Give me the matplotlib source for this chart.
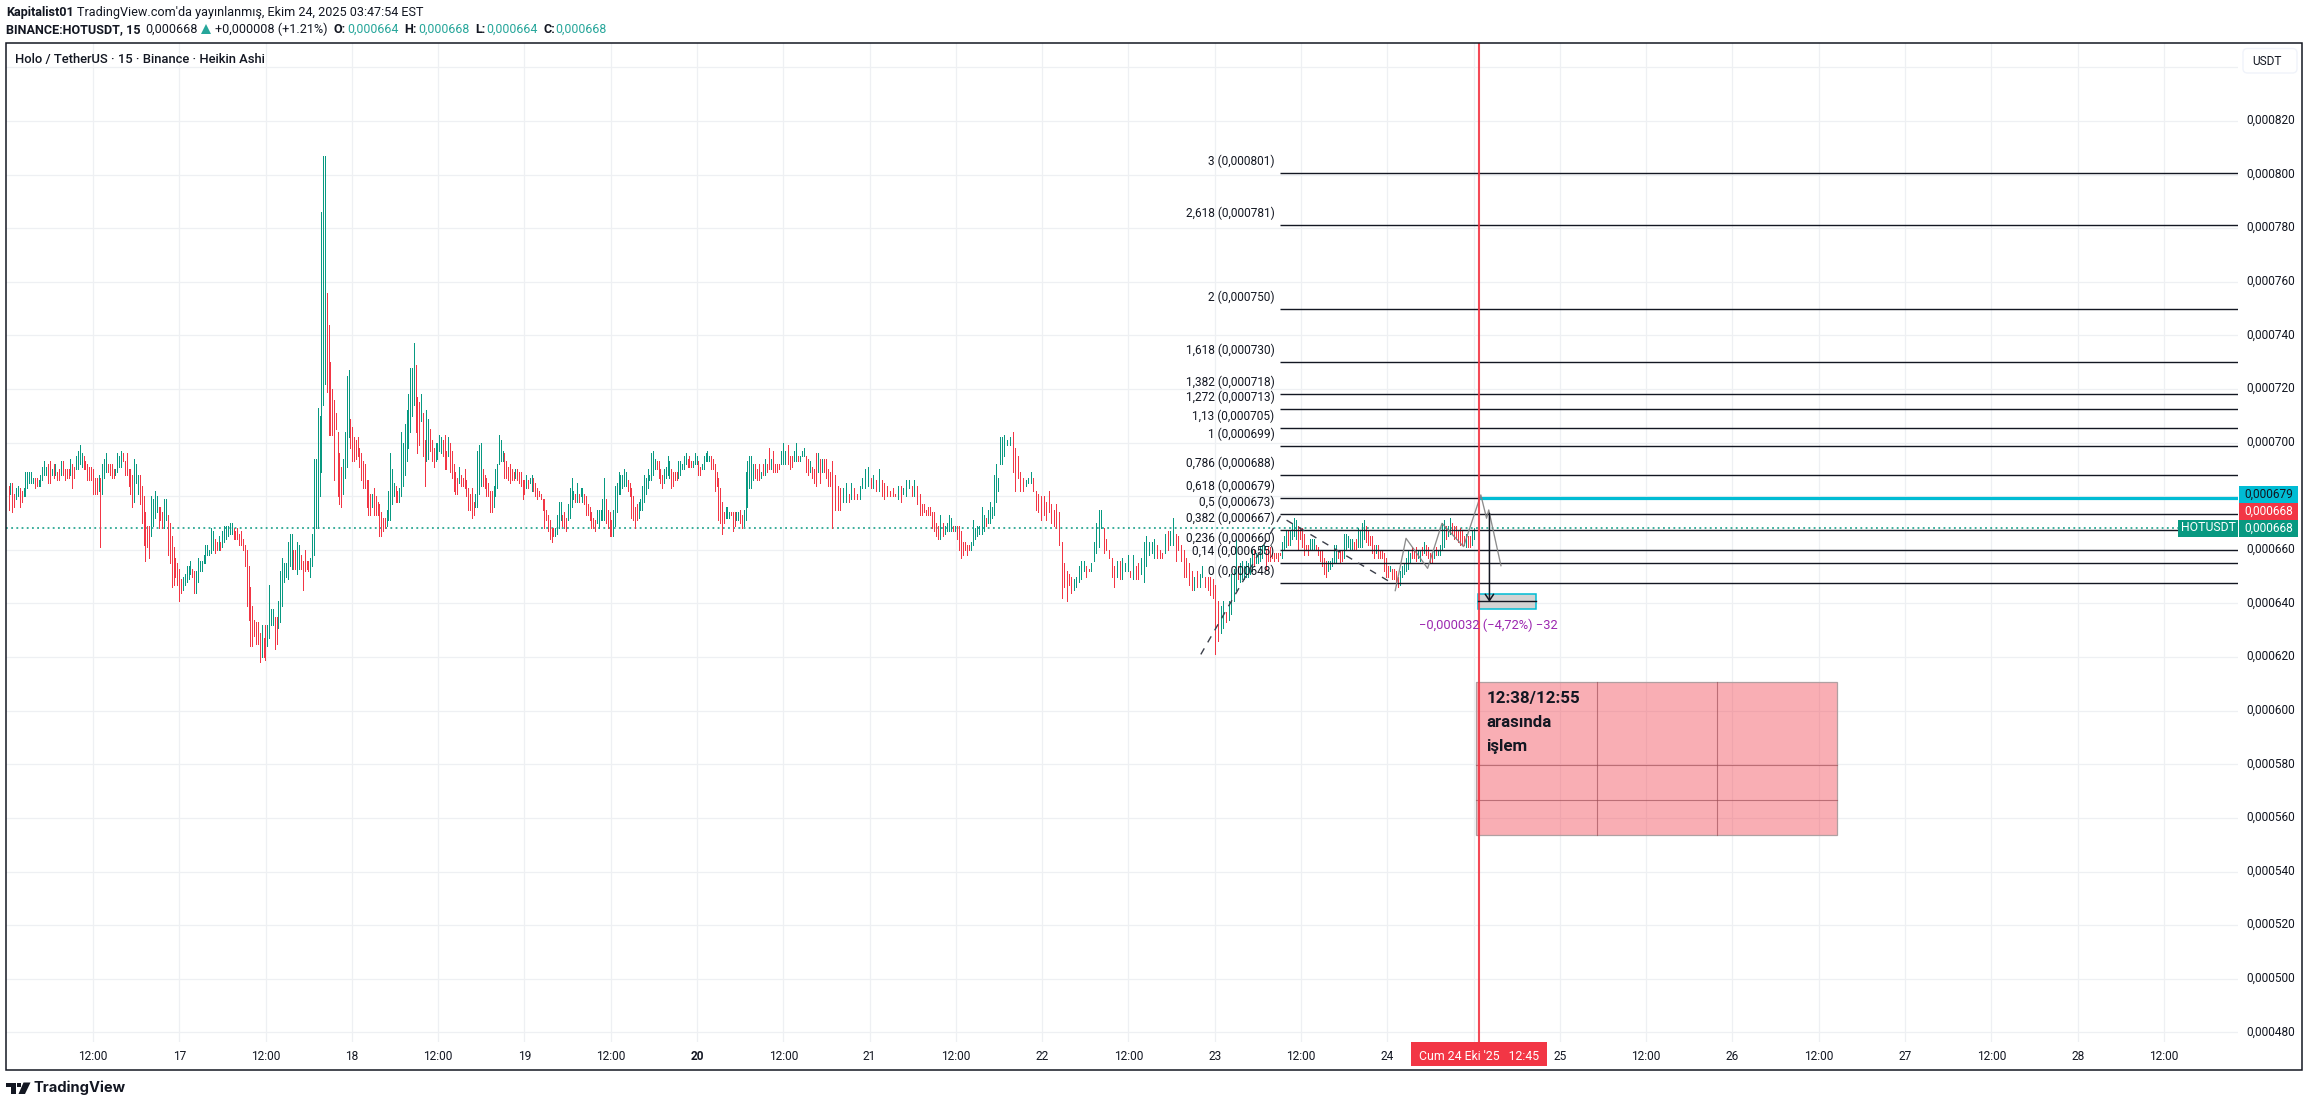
import numpy as np
import matplotlib
matplotlib.use("Agg")
import matplotlib.pyplot as plt
from matplotlib.patches import Rectangle, FancyBboxPatch, Polygon
from matplotlib.transforms import ScaledTranslation

W, H = 2309, 1107
plt.rcParams['font.family'] = ['Roboto', 'DejaVu Sans']

GREEN = '#089981'; RED = '#F23645'; CYAN = '#00BCD4'; INK = '#131722'; GRID = '#eef0f3'; PURPLE = '#9C27B0'

# Heikin Ashi bars, prices in 1e-6 USDT: (low, high, up)
# time anchors: bar index -> hours since 16 Oct 00:00
seg_a_anchor = ([0, 163], [0.25, 42.75])
seg_a = [(675,684,0),(681,685,1),(674,685,0),(676,681,0),(679,683,1),(680,684,1),(676,683,0),(678,682,0),(680,683,1),(680,689,1),
(683,689,1),(685,689,1),(685,689,1),(685,687,1),(683,687,0),(684,687,0),(684,686,1),(684,688,1),(686,691,1),(688,693,1),
(688,691,1),(685,692,0),(685,693,0),(688,690,1),(687,692,0),(688,692,1),(686,689,0),(686,690,0),(688,693,1),(688,693,0),
(686,690,0),(687,690,0),(687,690,0),(688,694,1),(683,692,0),(687,691,0),(690,695,1),(690,697,1),(692,699,1),(691,696,1),
(690,695,0),(690,693,0),(686,692,0),(686,691,0),(686,691,0),(681,690,0),(681,687,0),(681,687,0),(682,688,1),(661,687,0),
(681,692,1),(687,694,1),(689,696,1),(689,692,0),(688,692,0),(687,692,0),(687,690,0),(688,690,1),(689,696,1),(691,695,1),
(691,697,1),(693,696,0),(688,693,0),(688,696,0),(684,690,0),(681,690,0),(676,688,0),(678,694,1),(685,692,1),(681,688,1),
(677,688,0),(670,684,0),(662,680,0),(656,674,0),(661,669,0),(657,669,0),(665,680,1),(669,679,1),(672,682,1),(674,680,1),
(668,676,0),(671,676,0),(668,674,0),(668,679,1),(671,679,1),(658,673,0),(655,670,0),(646,665,0),(647,661,0),(650,657,0),
(647,655,0),(641,653,0),(644,649,0),(645,650,1),(647,651,1),(648,654,1),(649,654,1),(651,656,1),(650,653,0),(644,652,0),
(644,652,1),(648,657,1),(652,656,1),(652,656,1),(655,658,1),(655,662,1),(658,662,1),(658,660,1),(659,668,1),(660,667,1),
(659,664,0),(660,663,0),(660,665,1),(660,663,0),(661,667,1),(663,669,1),(664,669,1),(665,669,1),(666,670,1),(666,670,1),
(664,668,0),(664,667,0),(664,668,0),(662,666,0),(662,667,0),(660,664,0),(654,662,0),(639,660,0),(634,654,0),(624,646,0),
(624,639,0),(628,634,0),(625,633,0),(625,633,0),(618,629,0),(620,632,1),(620,627,0),(619,632,0),(624,632,1),(627,647,1),
(632,638,1),(632,638,1),(623,635,0),(625,635,0),(631,641,1),(633,652,1),(639,657,1),(648,655,1),(650,655,1),(649,663,1),
(654,666,1),(653,666,1),(653,660,0),(653,660,0),(651,663,1),(653,662,1),(653,658,0),(645,656,0),(652,660,0),(653,656,0),
(652,656,0),(650,657,1),(654,666,1),(658,694,1)]

seg_b_anchor = ([0, 239], [43.0, 103.25])
seg_b = [(668,694,1),(668,713,1),(680,710,1),(689,786,1),(714,807,1),(722,807,1),(719,756,0),(703,744,0),(703,730,0),(703,720,0),
(686,716,0),(705,711,0),(680,704,0),(677,696,0),(676,691,0),(681,694,1),(687,704,1),(691,725,1),(702,727,1),(698,709,0),
(693,706,0),(693,702,0),(694,701,0),(695,702,0),(691,698,0),(686,696,0),(683,693,0),(683,692,0),(676,686,0),(673,686,0),
(673,681,0),(676,681,1),(673,683,0),(673,680,0),(673,678,0),(665,677,0),(665,674,0),(667,672,0),(668,672,0),(669,675,1),
(671,682,1),(671,696,1),(677,690,1),(680,685,1),(678,684,0),(678,682,0),(678,683,1),(680,704,1),(684,700,1),(688,707,1),
(693,712,1),(698,718,1),(704,728,1),(710,728,1),(714,737,1),(704,729,0),(696,717,0),(699,715,0),(708,718,1),(695,711,0),
(684,701,0),(693,712,1),(694,709,1),(697,705,0),(693,701,0),(691,698,0),(693,700,1),(694,700,1),(697,703,1),(696,702,1),
(695,701,0),(690,703,0),(690,697,0),(695,702,1),(689,700,0),(687,697,0),(682,692,0),(681,689,0),(681,687,0),(685,691,1),
(684,688,0),(684,687,0),(683,690,0),(680,686,0),(675,683,0),(675,681,0),(672,683,0),(673,678,0),(676,681,1),(676,697,1),
(681,699,1),(684,700,1),(684,690,0),(683,688,0),(680,687,0),(680,685,0),(674,682,0),(674,682,0),(676,684,1),(680,690,1),
(683,692,1),(692,703,1),(693,701,1),(693,697,1),(687,696,0),(687,693,0),(686,691,0),(685,692,0),(686,690,0),(686,689,0),
(687,690,1),(686,690,0),(685,689,0),(684,689,0),(679,686,0),(681,686,0),(683,688,1),(683,686,0),(685,687,1),(682,688,1),
(682,687,0),(680,685,0),(679,683,0),(680,682,0),(679,681,0),(675,679,0),(668,679,0),(671,675,0),(667,673,0),(664,671,0),
(663,668,0),(665,668,0),(665,668,1),(666,673,1),(668,678,1),(671,678,1),(669,673,0),(668,674,0),(667,672,0),(671,677,1),
(672,683,1),(676,687,1),(679,682,1),(678,681,0),(678,685,1),(678,681,0),(680,683,1),(678,683,1),(677,681,0),(673,680,0),
(673,677,0),(671,676,0),(668,674,0),(668,672,0),(667,671,0),(670,675,1),(668,675,1),(671,675,1),(671,679,1),(671,687,1),
(670,679,0),(668,675,0),(665,674,0),(665,671,0),(665,675,1),(669,684,1),(674,685,1),(681,689,1),(681,688,1),(683,688,1),
(684,690,1),(684,689,1),(682,686,0),(680,685,0),(672,683,0),(671,680,0),(668,676,0),(671,677,0),(672,678,1),(675,679,1),
(675,684,1),(678,688,1),(681,687,1),(683,690,1),(686,688,1),(686,696,1),(688,697,1),(690,694,1),(690,693,0),(687,693,0),
(685,690,0),(683,688,0),(685,690,1),(687,691,1),(688,695,1),(687,693,1),(683,690,0),(684,689,0),(686,689,0),(686,689,0),
(687,693,1),(688,693,1),(690,692,1),(690,695,1),(692,696,1),(691,694,0),(691,695,0),(691,693,0),(691,693,1),(692,696,1),
(692,695,1),(688,693,0),(688,691,0),(690,692,1),(690,695,1),(693,696,1),(693,697,1),(693,695,1),(690,695,0),(690,694,0),
(682,692,0),(684,689,0),(671,687,0),(670,683,0),(666,678,0),(670,674,0),(672,676,1),(672,676,1),(672,674,1),(673,674,0),
(667,674,0),(669,674,0),(671,674,1),(671,674,1),(670,675,0),(668,673,0),(669,675,1),(671,689,1),(676,693,1),(683,695,1)]

seg_c_anchor = ([0, 40, 72, 113, 116, 135, 151, 194, 202], [103.5, 114.8, 127.0, 138.7, 139.9, 146.7, 152.2, 168.1, 171.0])
seg_c = [(683,695,1),(686,692,1),(687,692,0),(686,690,0),(686,692,0),(687,689,1),(688,692,0),(688,694,1),(689,692,0),(690,698,0),
(690,694,1),(689,697,0),(689,692,0),(689,692,0),(690,692,0),(692,697,1),(692,700,1),(692,697,1),(692,699,0),(690,695,0),
(691,695,0),(693,697,1),(693,700,1),(693,695,0),(693,695,1),(695,697,1),(695,698,1),(689,695,0),(688,694,0),(689,693,1),
(687,691,0),(685,690,0),(684,696,0),(689,696,1),(685,694,0),(689,694,1),(689,694,0),(687,694,0),(684,690,0),(684,689,0),
(668,693,0),(675,688,0),(675,684,0),(675,683,0),(678,683,1),(678,685,1),(678,681,0),(679,685,1),(679,683,0),(679,681,0),
(679,684,1),(683,687,1),(683,690,1),(684,691,1),(683,687,0),(683,688,1),(682,686,0),(682,690,1),(680,686,0),(679,685,0),
(680,684,0),(680,682,0),(680,683,0),(680,681,0),(679,684,1),(678,684,0),(681,683,1),(680,686,1),(683,686,1),(680,684,0),
(680,686,1),(677,684,0),(673,681,0),(673,677,0),(674,677,0),(673,675,0),(673,676,0),(673,676,0),(668,674,0),(667,674,0),
(665,670,0),(664,669,0),(664,673,1),(665,670,0),(666,669,1),(667,670,1),(667,673,1),(667,672,1),(667,669,0),(667,669,1),
(664,669,0),(660,669,0),(657,667,0),(658,663,0),(660,663,0),(658,662,0),(660,662,0),(660,663,1),(662,671,1),(664,668,1),
(665,669,1),(666,669,1),(666,676,1),(667,673,1),(669,672,0),(670,675,1),(670,678,1),(672,676,1),(673,688,1),(678,692,1),
(682,687,1),(692,702,1),(692,702,1),(695,703,1),(699,701,1),(699,702,1),(689,704,0),(682,698,0),(687,695,0),(682,689,0),
(682,687,0),(684,686,1),(685,687,1),(685,689,1),(682,687,0),(675,682,0),(674,681,0),(671,680,0),(673,680,0),(671,678,0),
(674,682,0),(670,677,0),(669,675,0),(668,677,0),(662,674,0),(642,663,0),(646,655,0),(641,652,0),(647,651,0),(644,650,0),
(645,649,1),(646,650,1),(648,654,1),(649,656,1),(652,656,1),(650,654,0),(652,653,0),(652,655,1),(656,663,1),(659,670,1),
(661,675,1),(668,675,1),(659,668,0),(660,664,0),(657,660,0),(650,657,0),(646,654,0),(650,656,1),(649,656,0),(649,657,1),
(652,655,1),(652,658,1),(650,652,0),(649,658,1),(649,654,0),(649,655,0),(651,657,1),(648,663,1),(654,665,1),(658,663,1),
(659,663,1),(657,664,1),(657,662,0),(657,660,0),(657,659,0),(659,666,1),(660,667,0),(662,667,1),(662,672,1),(656,666,0),
(660,665,0),(656,662,0),(650,660,0),(650,657,0),(647,655,0),(645,652,0),(645,650,1),(646,652,0),(646,651,1),(650,654,1),
(646,650,0),(645,650,0),(643,650,0),(642,649,0),(621,647,0),(626,641,0),(629,639,1),(631,641,1),(633,637,0),(634,641,1),
(636,651,1),(641,653,1),(645,664,1)]

seg_d_anchor = ([0, 118], [171.25, 204.0])
seg_d = [(649,654,0),(648,655,1),(649,656,1),(649,654,1),(650,656,1),(650,655,1),(651,657,1),(652,660,1),(654,660,0),(655,659,1),
(655,658,1),(656,661,1),(657,662,1),(659,662,1),(653,660,0),(656,661,0),(656,661,0),(657,659,0),(656,659,0),(657,659,0),
(656,659,0),(658,659,0),(657,663,1),(660,665,1),(661,667,1),(662,667,0),(662,667,1),(664,670,1),(665,672,1),(664,671,1),
(660,669,0),(664,668,0),(661,668,0),(658,666,0),(660,662,0),(658,662,0),(660,664,1),(660,664,1),(660,664,1),(660,662,0),
(658,661,0),(656,660,0),(654,660,0),(651,657,0),(650,656,0),(652,656,1),(653,656,1),(654,657,1),(655,662,1),(655,662,1),
(657,660,0),(655,660,0),(656,660,0),(657,666,1),(660,666,1),(661,665,1),(660,664,1),(660,664,1),(660,663,0),(660,664,0),
(661,668,1),(661,667,1),(661,670,1),(664,671,1),(663,669,0),(662,667,0),(662,665,0),(659,665,0),(657,662,0),(659,662,1),
(657,662,0),(657,660,0),(657,660,0),(652,659,0),(650,657,0),(650,654,0),(652,654,1),(649,653,0),(649,653,0),(647,652,0),
(646,650,0),(647,652,1),(650,654,1),(651,655,1),(652,657,1),(653,660,1),(655,659,1),(657,661,0),(657,660,0),(656,661,0),
(657,660,1),(656,660,1),(658,661,0),(659,663,1),(658,662,0),(657,661,0),(655,659,0),(655,659,0),(657,660,1),(658,661,0),
(658,660,1),(658,662,1),(660,670,1),(661,671,1),(664,669,0),(665,669,1),(666,672,1),(666,670,0),(664,669,0),(664,669,0),
(663,667,0),(662,668,0),(662,667,0),(662,665,0),(661,666,1),(661,665,0),(661,665,0),(662,667,1),(664,668,1)]

last_price = 668
fib_ratios = ['3','2,618','2','1,618','1,382','1,272','1,13','1','0,786','0,618','0,5','0,382','0,236','0,14','0']
fib_labels = ['0,000801','0,000781','0,000750','0,000730','0,000718','0,000713','0,000705','0,000699','0,000688','0,000679','0,000673','0,000667','0,000660','0,000655','0,000648']
fib_prices = [800.5,781.1,749.8,730.0,718.1,712.5,705.4,698.7,687.8,679.3,673.3,667.3,659.9,655.0,647.5]

dash_hours = [166.06,177.1,192.4]
dash_prices = [621,672.5,648]
path_hours = [193.1,194.6,197.6,199.6,202.6,205.0,205.8,206.1,207.8]
path_prices = [644.8,664.3,653.1,669.9,661.2,680.5,671.8,674.9,654.1]

price_ticks = list(range(480, 860, 20))
price_tick_labels = ['0,000%d' % p if p not in (680, 840) else '' for p in price_ticks]
time_ticks = list(range(12, 301, 12))
time_labels = ['12:00','17','12:00','18','12:00','19','12:00','20','12:00','21','12:00','22','12:00','23','12:00','24','','25','12:00','26','12:00','27','12:00','28','12:00']

fig = plt.figure(figsize=(W/100, H/100), dpi=100, facecolor='white')
ax = fig.add_axes([6/W, 1-1041.7/H, (2238-6)/W, (1041.7-43.3)/H])
ax.set_xlim(-0.10, 310.3)
ax.set_ylim(476.5, 849.0)
for s in ax.spines.values():
    s.set_visible(False)
ax.grid(True, color=GRID, lw=0.9, zorder=0)
ax.set_axisbelow(True)
ax.set_yticks(price_ticks, price_tick_labels)
ax.yaxis.tick_right()
ax.set_xticks(time_ticks, time_labels)
ax.tick_params(axis='y', length=0, pad=5.8, labelsize=8.6, labelcolor=INK)
ax.tick_params(axis='x', length=0, pad=5.8, labelsize=8.6, labelcolor=INK)
up = ScaledTranslation(0, 2/100, fig.dpi_scale_trans)
for t in ax.get_yticklabels():
    t.set_transform(t.get_transform() + up)
for t in ax.get_xticklabels():
    if t.get_text() == '20':
        t.set_fontweight('bold')

for seg, (idx, hrs) in [(seg_a, seg_a_anchor), (seg_b, seg_b_anchor), (seg_c, seg_c_anchor), (seg_d, seg_d_anchor)]:
    arr = np.array(seg, dtype=float)
    xs = np.interp(np.arange(len(arr)), idx, hrs)
    cols = [GREEN if u else RED for u in arr[:, 2]]
    ax.vlines(xs, arr[:, 0], arr[:, 1], colors=cols, linewidth=0.6, zorder=3, antialiased=False)

ax.axhline(last_price, color=GREEN, lw=1.1, ls=(0, (1.2, 2.2)), zorder=2.5)

# Fibonacci levels
for r, lab, p in zip(fib_ratios, fib_labels, fib_prices):
    ax.plot([177.05, 310.3], [p, p], color=INK, lw=1.0, zorder=4, solid_capstyle='butt')
    ax.annotate(f'{r} ({lab})', (177.05, p), xytext=(-3.9, 8.6), textcoords='offset points', ha='right', va='center',
                fontsize=8.6, color=INK, zorder=5)
ax.plot(dash_hours, dash_prices, color='#3b3f4a', lw=1.0, ls=(0, (5, 5)), zorder=5)
ax.plot(path_hours, path_prices, color='#808080', lw=0.95, alpha=0.9, zorder=5)

# Red Gann box
ax.add_patch(Rectangle((204.35, 553.5), 50.15, 57.1, facecolor=RED, alpha=0.4, edgecolor='none', zorder=2))
ax.add_patch(Rectangle((204.35, 553.5), 50.15, 57.1, facecolor='none', edgecolor='#b0a0a2', lw=0.9, zorder=2.2))
for h in (221.1, 237.8):
    ax.plot([h, h], [553.5, 610.6], color='#9c4c55', lw=0.8, alpha=0.65, zorder=2.3)
for p in (579.6, 566.6):
    ax.plot([204.35, 254.5], [p, p], color='#9c4c55', lw=0.8, alpha=0.65, zorder=2.3)

# cyan level
ax.plot([204.6, 310.3], [679.3, 679.3], color=CYAN, lw=2.3, zorder=4.5, solid_capstyle='butt')

# measure tool
ax.add_patch(Rectangle((204.67, 637.8), 7.98, 5.6, facecolor='#d3d3d3', edgecolor=CYAN, lw=1.1, zorder=5))
ax.plot([204.67, 212.65], [640.8, 640.8], color=INK, lw=1.0, zorder=5.5)
ax.annotate('', xy=(206.2, 640.6), xytext=(206.2, 673.6), zorder=6,
            arrowprops=dict(arrowstyle='->,head_length=0.45,head_width=0.3', color=INK, lw=1.1, shrinkA=0, shrinkB=0))
ax.annotate('\u22120,000032 (\u22124,72%) \u221232', (206.2, 637.8), xytext=(-1, -7), textcoords='offset points',
            ha='center', va='top', fontsize=9.3, color=PURPLE, zorder=6)

ax.axvline(204.75, color=RED, lw=1.5, zorder=5.2, alpha=0.9)
for s, p in zip(['12:38/12:55', 'arasında', 'işlem'], [604.4, 595.5, 586.5]):
    ax.text(205.75, p, s, ha='left', va='center', fontsize=12.2, fontweight='bold', color=INK, zorder=6)

# overlay in figure pixels
def tx(x, y, s, **kw):
    kw.setdefault('fontsize', 9.1); kw.setdefault('color', INK); kw.setdefault('va', 'center')
    return fig.text(x/W, 1-y/H, s, **kw)
def rc(x0, y0, x1, y1, **kw):
    p = Rectangle((x0/W, 1-y1/H), (x1-x0)/W, (y1-y0)/H, transform=fig.transFigure, **kw)
    fig.add_artist(p); return p

rc(6, 43.3, 2302.3, 1070.3, facecolor='none', edgecolor=INK, lw=1.1, zorder=20)

for y0, y1, col, s, tc in [(486, 502.7, CYAN, '0,000679', INK), (502.7, 520, RED, '0,000668', 'white'), (520, 536.7, GREEN, '0,000668', 'white')]:
    rc(2239, y0, 2298, y1, facecolor=col, edgecolor='none', zorder=21)
    tx(2268.5, (y0+y1)/2-0.5, s, color=tc, ha='center', zorder=22, fontsize=8.6)
rc(2178, 520, 2238, 536.7, facecolor=GREEN, edgecolor='none', zorder=21)
tx(2208, 528, 'HOTUSDT', color='white', ha='center', zorder=22, fontsize=8.8)

box = FancyBboxPatch((2243/W, 1-73/H), 54/W, 24.5/H, boxstyle='round,pad=0,rounding_size=0.002', transform=fig.transFigure,
                     facecolor='white', edgecolor='#f0f3fa', lw=1.0, zorder=21, mutation_aspect=2)
fig.add_artist(box)
tx(2252, 61.5, 'USDT', zorder=22, fontsize=8.6)

rc(1411, 1042, 1546.8, 1065.7, facecolor=RED, edgecolor='none', zorder=21)
tx(1478.9, 1056.5, "Cum 24 Eki '25   12:45", color='white', ha='center', zorder=22, fontsize=8.8)

# header
tx(6, 12.7, 'Kapitalist01', fontweight='bold')
tx(77, 12.7, "TradingView.com'da yayınlanmış, Ekim 24, 2025 03:47:54 EST")
tx(6, 29.3, 'BINANCE:HOTUSDT, 15', fontweight='bold')
tx(145, 29.3, '0,000668')
fig.add_artist(Polygon([(201/W, 1-34/H), (211/W, 1-34/H), (206/W, 1-24/H)], transform=fig.transFigure, facecolor='#26a69a', edgecolor='none'))
tx(215, 29.3, '+0,000008 (+1.21%)')
for x, s, xv, v in [(333, 'O:', 347, '0,000664'), (404, 'H:', 418, '0,000668'), (475, 'L:', 486, '0,000664'), (543, 'C:', 555, '0,000668')]:
    tx(x, 29.3, s, fontweight='bold')
    tx(xv, 29.3, v, color='#26a69a', fontsize=8.9)
tx(15, 60, 'Holo / TetherUS · 15 · Binance · Heikin Ashi', fontsize=9.4, fontweight='medium')

# logo
def P(pts, **kw):
    fig.add_artist(Polygon([(x/W, 1-y/H) for x, y in pts], transform=fig.transFigure, facecolor=INK, edgecolor='none', **kw))
P([(6, 1082.5), (16, 1082.5), (16, 1094), (10.5, 1094), (10.5, 1086.5), (6, 1086.5)])
P([(23.5, 1082.5), (30.5, 1082.5), (25, 1094), (18.5, 1094)])
rc(17.3, 1082.8, 21.3, 1086.8, facecolor=INK, edgecolor='none')
tx(34, 1088, 'TradingView', fontsize=10.6, fontweight='bold', family=['Inter', 'DejaVu Sans'])

fig.savefig('out.png', dpi=100, facecolor='white')
